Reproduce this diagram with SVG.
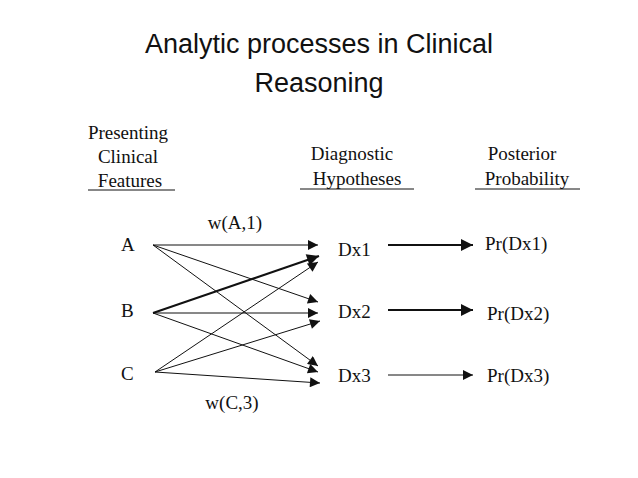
<svg xmlns="http://www.w3.org/2000/svg" width="638" height="478" viewBox="0 0 638 478">
<style>
.t{font-family:"Liberation Serif",serif;font-size:19px;fill:#111}
.h{font-family:"Liberation Sans",sans-serif;font-size:27px;fill:#111;text-anchor:middle}
.c{text-anchor:middle}
.l{stroke:#111;stroke-width:1;fill:none}
</style>
<defs>
<marker id="a" viewBox="0 0 10 10" refX="10" refY="5" markerWidth="14" markerHeight="10" markerUnits="userSpaceOnUse" orient="auto"><path d="M0,0L10,5L0,10z" fill="#111"/></marker>
<marker id="b" viewBox="0 0 10 10" refX="10" refY="5" markerWidth="18" markerHeight="12" markerUnits="userSpaceOnUse" orient="auto"><path d="M0,0L10,5L0,10z" fill="#111"/></marker>
</defs>
<rect width="638" height="478" fill="#fff"/>
<text class="h" x="319" y="53">Analytic processes in Clinical</text>
<text class="h" x="319" y="92">Reasoning</text>
<g id="headers">
<text class="t c" x="128" y="139">Presenting</text>
<text class="t c" x="128" y="163">Clinical</text>
<text class="t c" x="130" y="187">Features</text>
<line class="l" x1="88" y1="190" x2="175" y2="190"/>
<text class="t c" x="352" y="160">Diagnostic</text>
<text class="t c" x="357" y="185">Hypotheses</text>
<line class="l" x1="300" y1="189" x2="414" y2="189"/>
<text class="t c" x="522" y="160">Posterior</text>
<text class="t c" x="527" y="185">Probability</text>
<line class="l" x1="475" y1="189" x2="580" y2="189"/>
</g>
<g id="A"><text class="t" x="121" y="251">A</text></g>
<g id="B"><text class="t" x="121" y="317">B</text></g>
<g id="C"><text class="t" x="121" y="380">C</text></g>
<g id="Dx1"><text class="t" x="338" y="256">Dx1</text></g>
<g id="Dx2"><text class="t" x="338" y="318">Dx2</text></g>
<g id="Dx3"><text class="t" x="338" y="382">Dx3</text></g>
<g id="P1"><text class="t" x="485" y="250">Pr(Dx1)</text></g>
<g id="P2"><text class="t" x="487" y="320">Pr(Dx2)</text></g>
<g id="P3"><text class="t" x="487" y="382">Pr(Dx3)</text></g>
<text class="t c" x="235" y="229">w(A,1)</text>
<text class="t c" x="232" y="409">w(C,3)</text>
<g id="connectors">
<line class="l" x1="153" y1="245" x2="318" y2="245" marker-end="url(#a)"/>
<line class="l" x1="153" y1="245" x2="318" y2="302" marker-end="url(#a)"/>
<line class="l" x1="153" y1="245" x2="318" y2="366" marker-end="url(#a)"/>
<line class="l" x1="153" y1="313" x2="319" y2="256" marker-end="url(#b)" style="stroke-width:2"/>
<line class="l" x1="153" y1="313" x2="318" y2="313" marker-end="url(#a)"/>
<line class="l" x1="153" y1="313" x2="318" y2="372" marker-end="url(#a)"/>
<line class="l" x1="155" y1="372" x2="318" y2="262" marker-end="url(#a)"/>
<line class="l" x1="155" y1="372" x2="320" y2="321" marker-end="url(#a)"/>
<line class="l" x1="155" y1="372" x2="320" y2="383" marker-end="url(#a)"/>
<line class="l" x1="388" y1="245" x2="473" y2="245" marker-end="url(#b)" style="stroke-width:2"/>
<line class="l" x1="388" y1="310" x2="473" y2="310" marker-end="url(#b)" style="stroke-width:2"/>
<line class="l" x1="388" y1="375" x2="473" y2="375" marker-end="url(#a)"/>
</g>
</svg>
